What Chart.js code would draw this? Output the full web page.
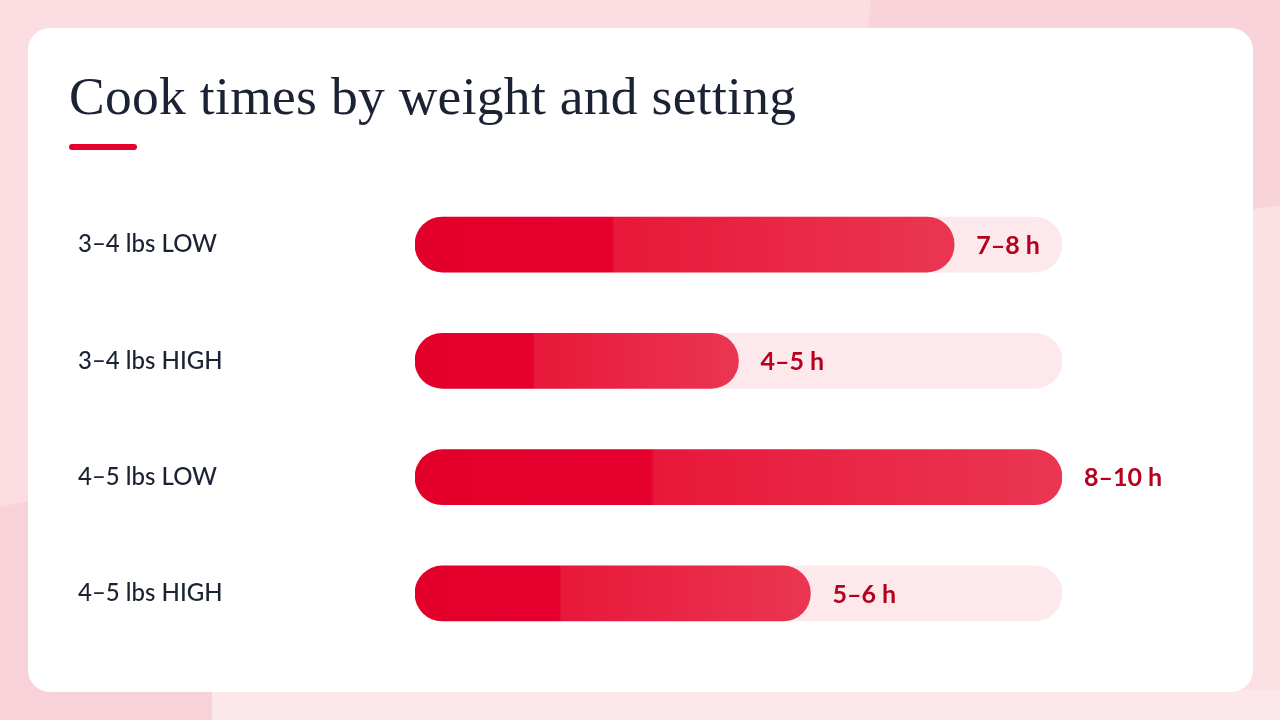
<!DOCTYPE html>
<html>
<head>
<meta charset="utf-8">
<script src="https://cdn.jsdelivr.net/npm/chart.js@4/dist/chart.umd.min.js"></script>
<style>
    html, body { margin: 0; padding: 0; }
    body {
        width: 1280px;
        height: 720px;
        position: relative;
        overflow: hidden;
        background: #fbdde2;
    }
    .blob { position: absolute; }
    .blob-tr {
        left: 892px; top: -200px; width: 900px; height: 410px;
        background: #f8d3d9;
        transform: rotate(6deg);
        transform-origin: 0 0;
    }
    .blob-r {
        left: 1000px; top: 205px; width: 600px; height: 700px;
        background: #fbe0e4;
        border-radius: 50%;
    }
    .blob-bl {
        left: -300px; top: 520px; width: 520px; height: 400px;
        background: #f8d2d9;
        transform: rotate(-12deg);
    }
    .blob-br {
        left: 212px; top: 690px; width: 1200px; height: 200px;
        background: #fce7eb;
    }
    .card {
        position: absolute;
        left: 28px; top: 28px;
        width: 1225px; height: 664px;
        background: #ffffff;
        border-radius: 22px;
    }
    h1 {
        position: absolute;
        left: 69px; top: 64px;
        margin: 0;
        font-family: "Liberation Serif", "DejaVu Serif", serif;
        font-weight: normal;
        font-size: 53.5px;
        line-height: 64px;
        color: #1b2233;
        letter-spacing: 0.3px;
    }
    .rule {
        position: absolute;
        left: 69px; top: 144px;
        width: 68px; height: 6px;
        border-radius: 3px;
        background: #e4002b;
    }
    .chart-box {
        position: absolute;
        left: 78px; top: 172px;
        width: 1120px; height: 494px;
    }
</style>
</head>
<body>
<div class="blob blob-tr"></div>
<div class="blob blob-r"></div>
<div class="blob blob-bl"></div>
<div class="blob blob-br"></div>
<div class="card"></div>
<h1>Cook times by weight and setting</h1>
<div class="rule"></div>
<div class="chart-box"><canvas id="cookChart" width="1120" height="494"></canvas></div>

<script>
// Data
const categories = ['3–4 lbs LOW', '3–4 lbs HIGH', '4–5 lbs LOW', '4–5 lbs HIGH'];
const rangeLabels = ['7–8 h', '4–5 h', '8–10 h', '5–6 h'];
const midHours = [7.5, 4.5, 9, 5.5];   // bar length = midpoint of range
const trackHours = [9, 9, 9, 9];       // full-length background track
const axisMax = 9;

const labelFont = '"Lato", "Open Sans", sans-serif';

// Per-bar gradient, solid deep red then lighter red toward the end
function barGradient(context) {
    const chart = context.chart;
    const area = chart.chartArea;
    if (!area) return '#e4002b';
    const x = chart.scales.x;
    const x0 = x.getPixelForValue(0);
    const x1 = x.getPixelForValue(midHours[context.dataIndex]);
    const g = chart.ctx.createLinearGradient(x0, 0, x1, 0);
    g.addColorStop(0, '#e2002a');
    g.addColorStop(0.365, '#e6002e');
    g.addColorStop(0.37, '#e8183a');
    g.addColorStop(1, '#ea3652');
    return g;
}

// Range text after each bar
const valueLabels = {
    id: 'valueLabels',
    afterDatasetsDraw(chart) {
        const ctx = chart.ctx;
        const meta = chart.getDatasetMeta(1);
        ctx.save();
        ctx.font = 'bold 25px ' + labelFont;
        ctx.fillStyle = '#b5001e';
        ctx.textAlign = 'left';
        ctx.textBaseline = 'middle';
        meta.data.forEach((bar, i) => {
            ctx.fillText(rangeLabels[i], bar.x + 22, bar.y + 1);
        });
        ctx.restore();
    }
};

new Chart(document.getElementById('cookChart'), {
    type: 'bar',
    data: {
        labels: categories,
        datasets: [{
            label: 'track',
            data: trackHours,
            backgroundColor: '#fde8eb',
            borderRadius: 28,
            borderSkipped: false,
            barThickness: 55,
            grouped: false,
            order: 2
        }, {
            label: 'hours',
            data: midHours,
            backgroundColor: barGradient,
            borderRadius: 28,
            borderSkipped: false,
            barThickness: 55,
            grouped: false,
            order: 1
        }]
    },
    options: {
        indexAxis: 'y',
        responsive: false,
        animation: false,
        layout: { padding: { left: 0, right: 136, top: 0, bottom: 0 } },
        plugins: {
            legend: { display: false },
            tooltip: { enabled: false }
        },
        scales: {
            x: {
                min: 0,
                max: axisMax,
                display: false
            },
            y: {
                grid: { display: false },
                border: { display: false },
                ticks: {
                    crossAlign: 'far',
                    padding: 0,
                    color: '#1b2233',
                    font: { family: labelFont, size: 24, weight: '500' }
                },
                afterFit(scale) {
                    scale.width = 337;
                }
            }
        }
    },
    plugins: [valueLabels]
});
</script>
</body>
</html>
